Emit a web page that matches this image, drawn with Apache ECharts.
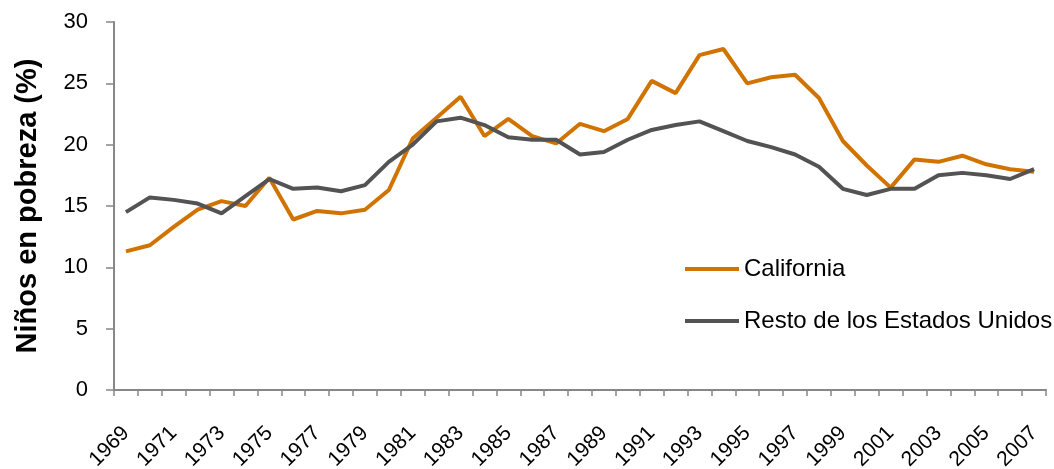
<!DOCTYPE html>
<html>
<head>
<meta charset="utf-8">
<script src="https://cdn.jsdelivr.net/npm/echarts@6/dist/echarts.min.js"></script>
<style>
  html, body { margin: 0; padding: 0; background: #fff; }
  #box { width: 1054px; height: 469px; }
</style>
</head>
<body>
<div id="box"></div>
<script>
// años
const years = [
  "1969", "1970", "1971", "1972", "1973", "1974", "1975", "1976", "1977", "1978",
  "1979", "1980", "1981", "1982", "1983", "1984", "1985", "1986", "1987", "1988",
  "1989", "1990", "1991", "1992", "1993", "1994", "1995", "1996", "1997", "1998",
  "1999", "2000", "2001", "2002", "2003", "2004", "2005", "2006", "2007"
];

const california = [
  11.3, 11.8, 13.3, 14.7, 15.4, 15.0, 17.3, 13.9, 14.6, 14.4,
  14.7, 16.3, 20.5, 22.2, 23.9, 20.7, 22.1, 20.7, 20.1, 21.7,
  21.1, 22.1, 25.2, 24.2, 27.3, 27.8, 25.0, 25.5, 25.7, 23.8,
  20.3, 18.3, 16.5, 18.8, 18.6, 19.1, 18.4, 18.0, 17.8
];

const restoEEUU = [
  14.5, 15.7, 15.5, 15.2, 14.4, 15.8, 17.2, 16.4, 16.5, 16.2,
  16.7, 18.6, 20.0, 21.9, 22.2, 21.6, 20.6, 20.4, 20.4, 19.2,
  19.4, 20.4, 21.2, 21.6, 21.9, 21.1, 20.3, 19.8, 19.2, 18.2,
  16.4, 15.9, 16.4, 16.4, 17.5, 17.7, 17.5, 17.2, 18.0
];

const yTicks = [0, 5, 10, 15, 20, 25, 30];

const font = "Liberation Sans, Arial, sans-serif";
const axisGray = "#878787";

let myChart = echarts.init(document.getElementById("box"));
let option = {
  animation: false,
  textStyle: { fontFamily: font },
  grid: {
    left: 114,
    right: 8,
    top: 22,
    bottom: 79,
    containLabel: false,
    outerBoundsMode: "none",
  },
  legend: {
    orient: "vertical",
    left: 680,
    top: 252,
    icon: "rect",
    itemWidth: 54,
    itemHeight: 4,
    itemGap: 28,
    textStyle: { fontSize: 24, color: "#000", fontFamily: font },
    data: ["California", "Resto de los Estados Unidos"],
  },
  xAxis: {
    type: "category",
    data: years,
    boundaryGap: true,
    axisLine: { lineStyle: { color: axisGray, width: 2 } },
    axisTick: { show: true, interval: 0, length: 6, lineStyle: { color: axisGray, width: 1.5 } },
    axisLabel: {
      interval: 1,
      rotate: 45,
      fontSize: 21,
      color: "#000",
      margin: 40,
    },
  },
  yAxis: {
    type: "value",
    min: yTicks[0],
    max: yTicks[yTicks.length - 1],
    interval: 5,
    name: "Niños en pobreza (%)",
    nameLocation: "middle",
    nameGap: 72,
    nameTextStyle: { fontSize: 29, fontWeight: "bold", color: "#000", fontFamily: font },
    splitLine: { show: false },
    axisLine: { show: true, lineStyle: { color: axisGray, width: 2 } },
    axisTick: { show: true, length: 8, lineStyle: { color: axisGray, width: 1.5 } },
    axisLabel: { fontSize: 22, color: "#000", margin: 26 },
  },
  series: [
    {
      name: "California",
      type: "line",
      data: california,
      symbol: "none",
      lineStyle: { color: "#D17300", width: 4 },
      itemStyle: { color: "#D17300" },
    },
    {
      name: "Resto de los Estados Unidos",
      type: "line",
      data: restoEEUU,
      symbol: "none",
      lineStyle: { color: "#535353", width: 4 },
      itemStyle: { color: "#535353" },
    },
  ],
};
myChart.setOption(option);
</script>
</body>
</html>
